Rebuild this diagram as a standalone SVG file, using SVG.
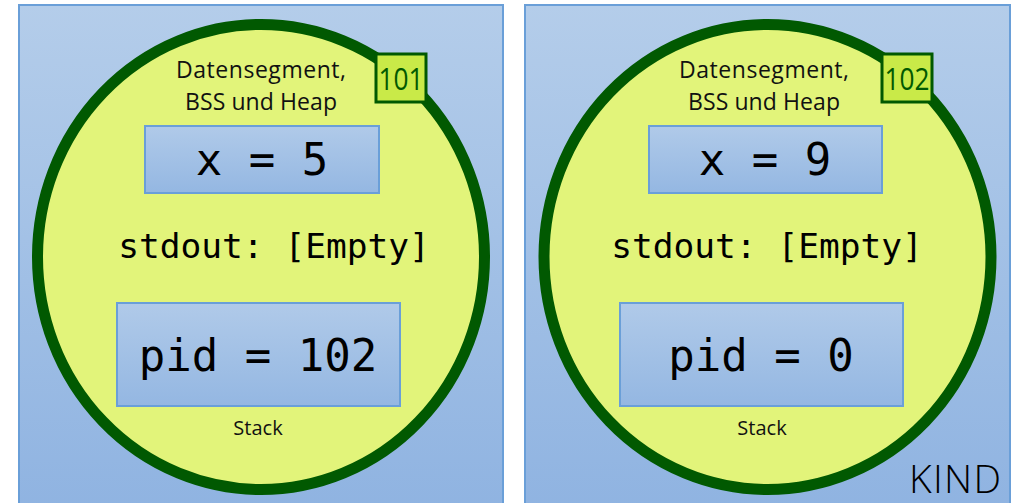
<svg xmlns="http://www.w3.org/2000/svg" width="1018" height="503" viewBox="0 0 1018 503">
<defs>
<linearGradient id="panelGrad" x1="0" y1="0" x2="0" y2="1">
<stop offset="0" stop-color="#b4cdea"/>
<stop offset="1" stop-color="#8fb3e1"/>
</linearGradient>
<linearGradient id="boxGrad" x1="0" y1="0" x2="0" y2="1">
<stop offset="0" stop-color="#b0cae9"/>
<stop offset="1" stop-color="#94b7e2"/>
</linearGradient>
</defs>
<style>
.panel{fill:url(#panelGrad);stroke:#6a9fd8;stroke-width:2}
.proc{fill:#e2f47a;stroke:#015901;stroke-width:11}
.badge{fill:#c9ea48;stroke:#015901;stroke-width:3}
.badgeT{font-family:"Open Sans","Liberation Sans",sans-serif;font-size:31px;fill:#015901;text-anchor:middle}
.box{fill:url(#boxGrad);stroke:#6a9fd8;stroke-width:2}
.lbl{font-family:"Open Sans","Liberation Sans",sans-serif;font-size:23px;fill:#111;text-anchor:middle}
.mono{font-family:"DejaVu Sans Mono","Liberation Mono",monospace;fill:#000;text-anchor:middle}
.big{font-size:44px}
.mid{font-size:34.5px}
.kind{font-family:"Open Sans","Liberation Sans",sans-serif;font-weight:300;font-size:39px;fill:#000}
</style>
<g id="parent">
<rect class="panel" x="19" y="5" width="484" height="510"/>
<ellipse class="proc" cx="261" cy="257" rx="223.5" ry="232.5"/>
<text class="lbl" x="261" y="78" textLength="170">Datensegment,</text>
<text class="lbl" x="261" y="110" textLength="152">BSS und Heap</text>
<g id="parent-badge">
<rect class="badge" x="376" y="54" width="50" height="48"/>
<text class="badgeT" x="401" y="90" textLength="45" lengthAdjust="spacingAndGlyphs">101</text>
</g>
<g id="parent-x">
<rect class="box" x="145" y="126" width="234" height="67"/>
<text class="mono big" x="262" y="175">x = 5</text>
</g>
<text class="mono mid" x="274" y="258">stdout: [Empty]</text>
<g id="parent-pid">
<rect class="box" x="117" y="303" width="283" height="103"/>
<text class="mono big" x="258" y="371">pid = 102</text>
</g>
<text class="lbl" x="258" y="435" style="font-size:20px">Stack</text>
</g>
<g id="child">
<rect class="panel" x="525" y="5" width="485" height="510"/>
<ellipse class="proc" cx="767.5" cy="257" rx="223.5" ry="232.5"/>
<text class="lbl" x="764" y="78" textLength="170">Datensegment,</text>
<text class="lbl" x="764" y="110" textLength="152">BSS und Heap</text>
<g id="child-badge">
<rect class="badge" x="882" y="54" width="50" height="48"/>
<text class="badgeT" x="907" y="90" textLength="45" lengthAdjust="spacingAndGlyphs">102</text>
</g>
<g id="child-x">
<rect class="box" x="649" y="126" width="233" height="67"/>
<text class="mono big" x="765" y="175">x = 9</text>
</g>
<text class="mono mid" x="767" y="258">stdout: [Empty]</text>
<g id="child-pid">
<rect class="box" x="620" y="303" width="283" height="103"/>
<text class="mono big" x="761" y="371">pid = 0</text>
</g>
<text class="lbl" x="762" y="435" style="font-size:20px">Stack</text>
<text class="kind" x="909" y="493" textLength="92">KIND</text>
</g>
<g id="connectors"/>
</svg>
